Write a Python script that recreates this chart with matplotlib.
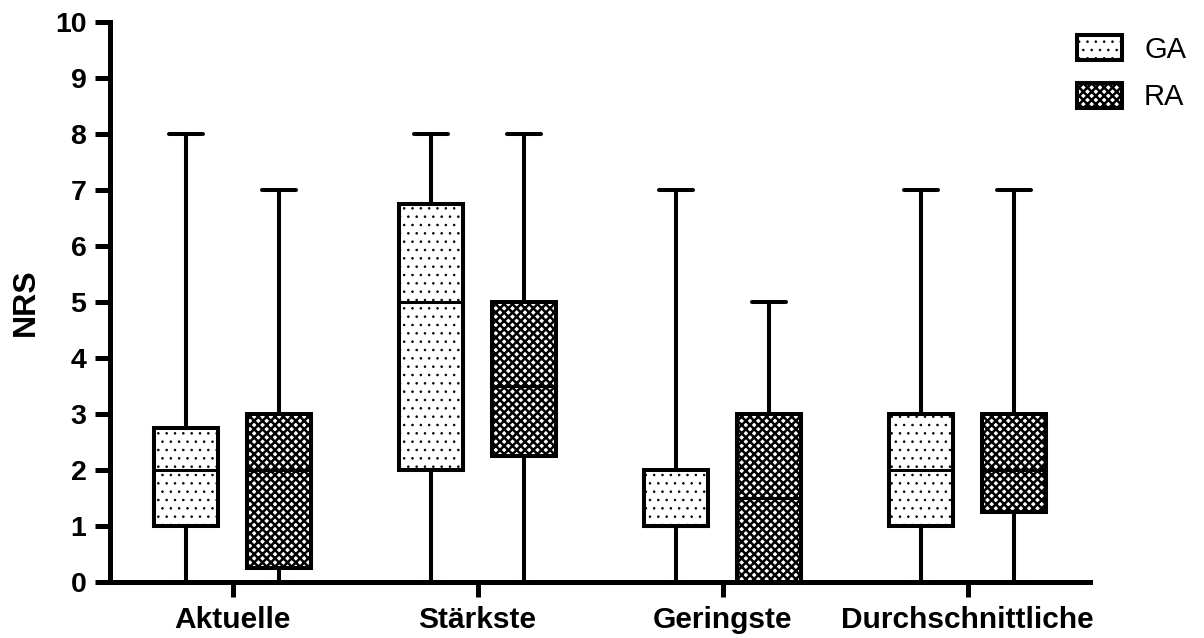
import matplotlib
matplotlib.use("Agg")
import matplotlib.pyplot as plt
from matplotlib.patches import Patch

matplotlib.rcParams['font.family'] = ['Liberation Sans', 'DejaVu Sans']
matplotlib.rcParams['hatch.linewidth'] = 1.7

categories = ["Aktuelle", "Stärkste", "Geringste", "Durchschnittliche"]
groups = ["GA", "RA"]

# five-number summaries: min, q1, median, q3, max
ga_min = [0, 0, 0, 0]
ga_q1 = [1, 2, 1, 1]
ga_med = [2, 5, 1, 2]
ga_q3 = [2.75, 6.75, 2, 3]
ga_max = [8, 8, 7, 7]

ra_min = [0, 0, 0, 0]
ra_q1 = [0.25, 2.25, 0, 1.25]
ra_med = [2, 3.5, 1.5, 2]
ra_q3 = [3, 5, 3, 3]
ra_max = [7, 8, 5, 7]

yticks = list(range(0, 11))


def stats(mn, q1, med, q3, mx):
    return [dict(whislo=a, q1=b, med=c, q3=d, whishi=e, fliers=[])
            for a, b, c, d, e in zip(mn, q1, med, q3, mx)]


fig = plt.figure(figsize=(12.04, 6.38), dpi=100)
ax = fig.add_axes([110/1204, 1 - 582/638, (1090 - 110)/1204, (582 - 22)/638])

pos = list(range(1, len(categories) + 1))
off = 0.188
width = 0.261
lw = 2.9
fs = 21.5

hatches = ['..', 'xxxx']
hatch_lw = [0.6, 1.8]
data = [stats(ga_min, ga_q1, ga_med, ga_q3, ga_max),
        stats(ra_min, ra_q1, ra_med, ra_q3, ra_max)]


def set_hlw(patch, v):
    if hasattr(patch, 'set_hatch_linewidth'):
        patch.set_hatch_linewidth(v)


for k, st in enumerate(data):
    p = [x + (-off if k == 0 else off) for x in pos]
    bp = ax.bxp(st, positions=p, widths=width, patch_artist=True,
                showfliers=False, capwidths=0.139,
                boxprops=dict(facecolor='white', edgecolor='black', linewidth=lw, hatch=hatches[k]),
                medianprops=dict(color='black', linewidth=2.2),
                whiskerprops=dict(color='black', linewidth=lw),
                capprops=dict(color='black', linewidth=lw, solid_capstyle='round'))
    for b in bp['boxes']:
        set_hlw(b, hatch_lw[k])

ax.set_xlim(0.5, 4.5)
ax.set_ylim(0, 10)
ax.set_xticks(pos)
ax.set_xticklabels(categories, fontsize=fs, fontweight='bold')
ax.set_yticks(yticks)
ax.set_yticklabels([str(t) for t in yticks], fontsize=20.5, fontweight='bold')
ax.set_ylabel("NRS", fontsize=23, fontweight='bold', labelpad=10)

for s in ['top', 'right']:
    ax.spines[s].set_visible(False)
for s in ['left', 'bottom']:
    ax.spines[s].set_linewidth(3.6)
ax.tick_params(axis='both', width=3.6, length=11, pad=6)

handles = [Patch(facecolor='white', edgecolor='black', linewidth=lw, hatch=h) for h in hatches]
for h, v in zip(handles, hatch_lw):
    set_hlw(h, v)
leg = fig.legend(handles, groups, loc='upper left', bbox_to_anchor=(1077/1204, 1 - 35/638),
                 frameon=False, fontsize=21, borderpad=0, borderaxespad=0,
                 handlelength=1.55, handleheight=0.96, handletextpad=0.75, labelspacing=0.65)
for h, v in zip(leg.legend_handles, hatch_lw):
    set_hlw(h, v)

fig.savefig("out.png", dpi=100)
